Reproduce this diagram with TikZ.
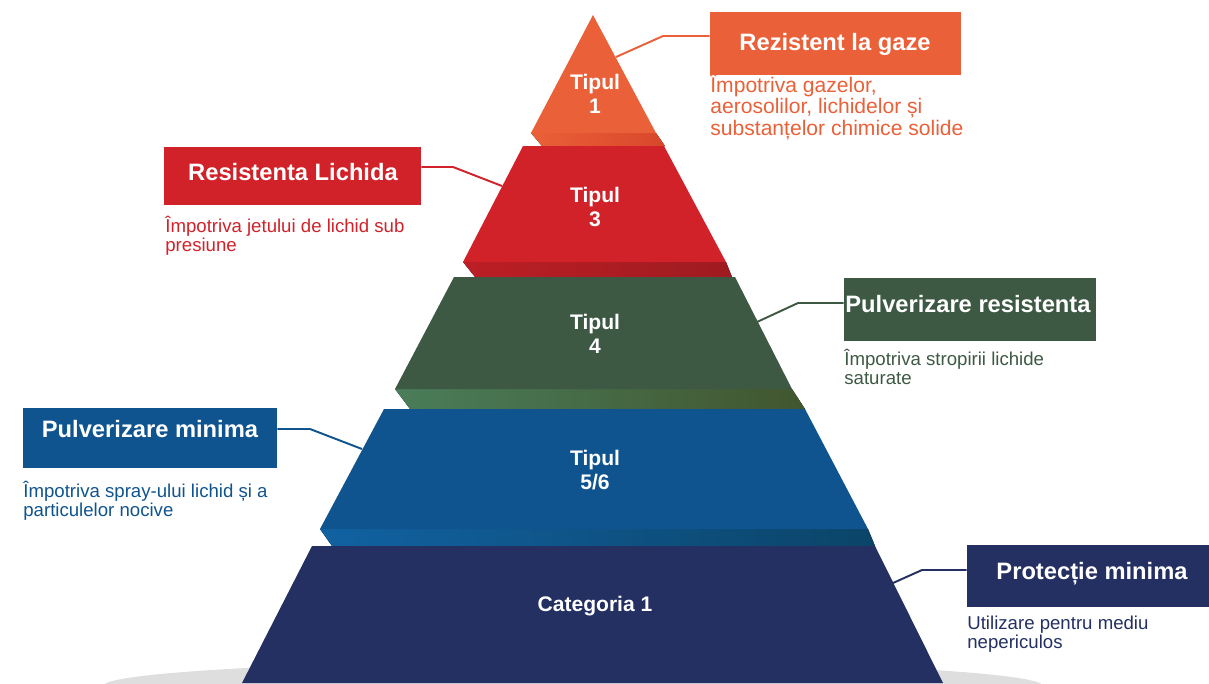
\documentclass[tikz,border=0pt]{standalone}
\usepackage{fontspec}
\setmainfont{Liberation Sans}
\definecolor{gazorange}{HTML}{EA6038}
\definecolor{gazband}{HTML}{D9472B}
\definecolor{lichred}{HTML}{D12229}
\definecolor{lichband}{HTML}{9E1B20}
\definecolor{sprgreen}{HTML}{3D5944}
\definecolor{sprgreenl}{HTML}{4A7D5A}
\definecolor{sprgreenr}{HTML}{41562F}
\definecolor{minblue}{HTML}{0F548F}
\definecolor{minbluel}{HTML}{1162A2}
\definecolor{minbluer}{HTML}{0B4468}
\definecolor{catnavy}{HTML}{242F62}
\definecolor{floorgray}{HTML}{DEDEDE}

\begin{document}
\begin{tikzpicture}[x=0.02cm,y=-0.02cm]
				\tikzstyle{titlebox}=[rectangle,inner sep=0pt]
				\tikzstyle{titletext}=[inner sep=0pt,anchor=base,text=white,font=\fontsize{13.5}{16}\selectfont\bfseries]
				\tikzstyle{tiertext}=[inner sep=0pt,align=center,text=white,font=\fontsize{12}{13.6}\selectfont\bfseries]
				\tikzstyle{desc}=[inner sep=0pt,anchor=base west,align=left,font=\fontsize{10.6}{10.8}\selectfont]
				\tikzstyle{link}=[line width=1.1pt]
				\useasboundingbox (0,0) rectangle (1209,683);
				\fill[floorgray] (573,686) ellipse [x radius=9.4cm,y radius=0.5cm];

				\fill[left color=gazorange,right color=gazband] (531,133) -- (656,133) -- (665,146) -- (542,146) -- cycle;
				\fill[gazorange] (593,15) -- (656,133) -- (531,133) -- cycle;
				\fill[left color=lichred!90!black,right color=lichband] (463,262) -- (726,262) -- (732,277) -- (475,277) -- cycle;
				\fill[lichred] (523,146) -- (664,146) -- (726,262) -- (463,262) -- cycle;
				\fill[left color=sprgreenl,right color=sprgreenr] (395,389) -- (792,389) -- (805,409) -- (410,409) -- cycle;
				\fill[sprgreen] (454,277) -- (735,277) -- (792,389) -- (395,389) -- cycle;
				\fill[left color=minbluel,right color=minbluer] (320,529) -- (868,529) -- (875,546) -- (332,546) -- cycle;
				\fill[minblue] (384,409) -- (805,409) -- (868,529) -- (320,529) -- cycle;
				\fill[catnavy] (312,546) -- (875,546) -- (943,683) -- (242,683) -- cycle;

				\node[tiertext] (tip1) at (595,94) {Tipul\\1};
				\node[tiertext] (tip3) at (595,207) {Tipul\\3};
				\node[tiertext] (tip4) at (595,334) {Tipul\\4};
				\node[tiertext] (tip56) at (595,470) {Tipul\\5/6};
				\node[tiertext,anchor=base] (cat1) at (595,611) {Categoria 1};

				\node[titlebox,fill=gazorange,minimum width=5.02cm,minimum height=1.26cm] (gazbox) at (835.5,43.5) {};
				\node[titletext] (gaztitle) at (835,50) {Rezistent la gaze};
				\node[desc,text=gazorange,font=\fontsize{12}{10.6}\selectfont] (gazdesc) at (710,135) {Împotriva gazelor,\\aerosolilor, lichidelor și\\substanțelor chimice solide};

				\node[titlebox,fill=lichred,minimum width=5.14cm,minimum height=1.16cm] (lichbox) at (292.5,176) {};
				\node[titletext] (lichtitle) at (293,180) {Resistenta Lichida};
				\node[desc,text=lichred] (lichdesc) at (165,251) {Împotriva jetului de lichid sub\\presiune};

				\node[titlebox,fill=sprgreen,minimum width=5.04cm,minimum height=1.26cm] (rezbox) at (970,309.5) {};
				\node[titletext,anchor=base west] (reztitle) at (845,312) {Pulverizare resistenta};
				\node[desc,text=sprgreen] (rezdesc) at (844,384) {Împotriva stropirii lichide\\saturate};

				\node[titlebox,fill=minblue,minimum width=5.08cm,minimum height=1.2cm] (minbox) at (150,438) {};
				\node[titletext] (mintitle) at (150,437) {Pulverizare minima};
				\node[desc,text=minblue] (mindesc) at (23,516) {Împotriva spray-ului lichid și a\\particulelor nocive};

				\node[titlebox,fill=catnavy,minimum width=4.84cm,minimum height=1.24cm] (protbox) at (1088,576) {};
				\node[titletext] (prottitle) at (1092,579) {Protecție minima};
				\node[desc,text=catnavy] (protdesc) at (967,648) {Utilizare pentru mediu\\nepericulos};

				\coordinate (gazfoot) at (616,57);
				\coordinate (gazknee) at (663,36);
				\coordinate (lichfoot) at (502,186);
				\coordinate (lichknee) at (453,167);
				\coordinate (rezfoot) at (757,322);
				\coordinate (rezknee) at (798,303);
				\coordinate (minfoot) at (362,449);
				\coordinate (minknee) at (310,429);
				\coordinate (protfoot) at (893,583);
				\coordinate (protknee) at (922,570);
				\draw[link,gazorange] (gazfoot) -- (gazknee) -- (gazknee -| gazbox.west);
				\draw[link,lichred] (lichfoot) -- (lichknee) -- (lichknee -| lichbox.east);
				\draw[link,sprgreen] (rezfoot) -- (rezknee) -- (rezknee -| rezbox.west);
				\draw[link,minblue] (minfoot) -- (minknee) -- (minknee -| minbox.east);
				\draw[link,catnavy] (protfoot) -- (protknee) -- (protknee -| protbox.west);
\end{tikzpicture}
\end{document}
